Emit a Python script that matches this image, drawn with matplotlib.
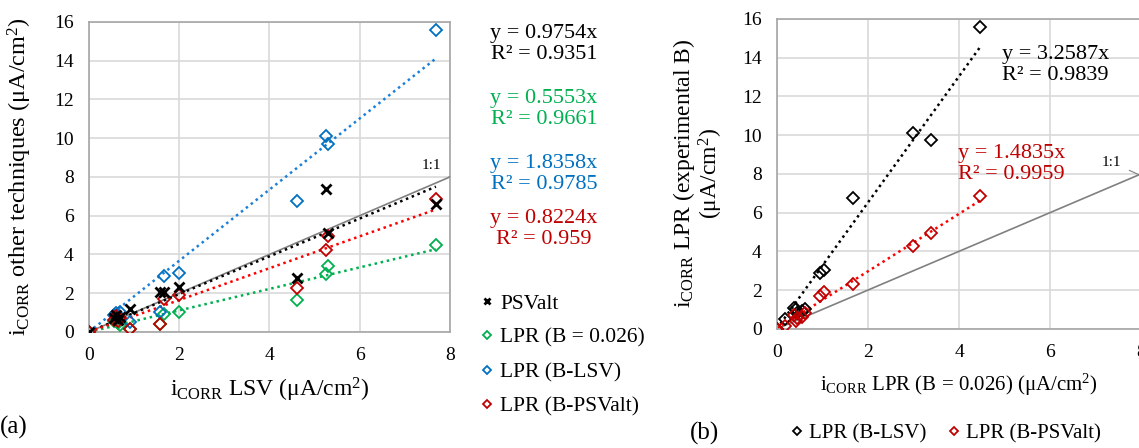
import matplotlib.pyplot as plt
import numpy as np

plt.rcParams['font.family'] = ['Liberation Serif', 'DejaVu Serif']
plt.rcParams['mathtext.fontset'] = 'custom'
plt.rcParams['mathtext.rm'] = 'Liberation Serif'
plt.rcParams['mathtext.it'] = 'Liberation Serif:italic'

# icorr values (uA/cm2), one entry per sample
lsv     = [0.00, 0.55, 0.60, 0.65, 0.70, 0.92, 1.57, 1.66, 1.99, 4.61, 5.25, 5.29, 7.69]
psvalt  = [0.00, 0.70, 0.85, 0.60, 0.75, 1.20, 2.07, 2.07, 2.30, 2.80, 7.40, 5.13, 6.60]
lpr026  = [0.00, 0.55, 0.62, 0.45, 0.38, 0.17, 0.43, 0.95, 1.03, 1.67, 3.00, 3.39, 4.47]
lpr_lsv = [0.00, 0.90, 1.00, 0.80, 1.05, 0.52, 1.03, 2.87, 3.05, 6.75, 10.10, 9.72, 15.60]
lpr_psv = [0.00, 0.60, 0.80, 0.55, 0.70, 0.17, 0.43, 1.72, 1.89, 2.29, 4.25, 4.94, 6.88]

# trendline slopes (through origin) and R2 as printed
slopes_a = [0.9754, 0.5553, 1.8358, 0.8224]
r2_a = ['0.9351', '0.9661', '0.9785', '0.959']
slopes_b = [3.2587, 1.4835]
r2_b = ['0.9839', '0.9959']

BLACK = '#000000'
GREEN = '#00b050'
BLUE = '#0070c0'
RED = '#c00000'
GRID = '#d9d9d9'
SPINE = '#a6a6a6'

fig = plt.figure(figsize=(11.39, 4.48), dpi=100)
axa = fig.add_axes([0.078, 0.259, 0.317, 0.692])
axb = fig.add_axes([0.682, 0.266, 0.320, 0.692])


def style_axes(ax):
    ax.set_xlim(0, 8)
    ax.set_ylim(0, 16)
    ax.set_xticks(range(0, 9, 2))
    ax.set_yticks(range(0, 17, 2))
    ax.grid(True, color=GRID, lw=1.2)
    ax.set_axisbelow(True)
    ax.tick_params(length=0, labelsize=14)
    ax.tick_params(axis='y', pad=11)
    ax.tick_params(axis='x', pad=11)
    for s in ax.spines.values():
        s.set_color(SPINE)
        s.set_linewidth(1.2)


def fit_line(ax, x, slope, color):
    xx = np.array([0, max(x)])
    ax.plot(xx, slope * xx, ls=(0, (1, 1.5)), color=color, lw=1.8, zorder=2)


# ---------- (a) ----------
style_axes(axa)
axa.plot([0, 8], [0, 8], color='#808080', lw=1.2, zorder=2)
fit_line(axa, lsv, slopes_a[0], BLACK)
fit_line(axa, lsv, slopes_a[1], '#00b050')
fit_line(axa, lsv, slopes_a[2], '#1a7fd8')
fit_line(axa, lsv, slopes_a[3], '#ff0000')

mk = dict(marker='D', ms=6.5, mfc='none', mew=1.3, ls='none', zorder=3)
axa.plot(lsv, lpr026, mec=GREEN, label='LPR (B = 0.026)', **mk)
axa.plot(lsv, lpr_lsv, mec=BLUE, label='LPR (B-LSV)', **mk)
axa.plot(lsv, lpr_psv, mec=RED, label='LPR (B-PSValt)', **mk)
axa.plot(lsv, psvalt, marker='x', ms=7, mew=2, color=BLACK, ls='none',
         label='PSValt', zorder=4)

axa.annotate('1:1', xy=(8, 8), xytext=(7.6, 8.6), fontsize=11,
             ha='center', va='center',
             arrowprops=dict(arrowstyle='-', color='#808080', lw=0.8,
                             shrinkA=4, shrinkB=0))
axa.set_xlabel(r'i$_{\mathrm{CORR}}$ LSV (μA/cm$^{2}$)', fontsize=17, labelpad=8)
axa.set_ylabel(r'i$_{\mathrm{CORR}}$ other techniques (μA/cm$^{2}$)', fontsize=17.5,
               labelpad=14)

# equations of (a)
eq_cols = [BLACK, GREEN, BLUE, RED]
eq_y = [0.902, 0.757, 0.612, 0.489]
for s, r, c, y in zip(slopes_a, r2_a, eq_cols, eq_y):
    fig.text(0.4775, y, f'y = {s:.4f}x\nR² = {r}', color=c, fontsize=16,
             ha='center', va='center', linespacing=1.12)

h, l = axa.get_legend_handles_labels()
order = [3, 0, 1, 2]
fig.legend([h[i] for i in order], [l[i] for i in order],
           loc='upper left', bbox_to_anchor=(0.405, 0.388),
           frameon=False, fontsize=15.5, handlelength=0.6, handletextpad=0.3,
           labelspacing=0.66, markerscale=0.7)

fig.text(0.0, 0.045, '(a)', fontsize=18, ha='left', va='center')

# ---------- (b) ----------
style_axes(axb)
axb.plot([0, 8], [0, 8], color='#808080', lw=1.2, zorder=2)
fit_line(axb, lpr026, slopes_b[0], BLACK)
fit_line(axb, lpr026, slopes_b[1], '#ff0000')
axb.plot(lpr026, lpr_lsv, mec=BLACK, label='LPR (B-LSV)', **mk)
axb.plot(lpr026, lpr_psv, mec=RED, label='LPR (B-PSValt)', **mk)

axb.text(4.95, 13.6, f'y = {slopes_b[0]:.4f}x\nR² = {r2_b[0]}', color=BLACK,
         fontsize=16, ha='left', va='center', linespacing=1.12)
axb.text(3.97, 8.5, f'y = {slopes_b[1]:.4f}x\nR² = {r2_b[1]}', color=RED,
         fontsize=16, ha='left', va='center', linespacing=1.12)
axb.annotate('1:1', xy=(7.95, 7.95), xytext=(7.35, 8.6), fontsize=11,
             ha='center', va='center',
             arrowprops=dict(arrowstyle='-', color='#808080', lw=0.8,
                             shrinkA=4, shrinkB=0))

axb.set_xlabel(r'i$_{\mathrm{CORR}}$ LPR (B = 0.026) (μA/cm$^{2}$)', fontsize=15,
               labelpad=8)
axb.set_ylabel('i$_{\\mathrm{CORR}}$ LPR (experimental B)\n(μA/cm$^{2}$)',
               fontsize=17, labelpad=12, linespacing=1.0)

fig.legend(*axb.get_legend_handles_labels(), loc='center left',
           bbox_to_anchor=(0.679, 0.033), ncol=2, frameon=False, fontsize=15,
           handlelength=0.5, handletextpad=0.3, columnspacing=1.1,
           markerscale=0.7)
fig.text(0.606, 0.033, '(b)', fontsize=18, ha='left', va='center')

fig.savefig('out.png', dpi=100)
